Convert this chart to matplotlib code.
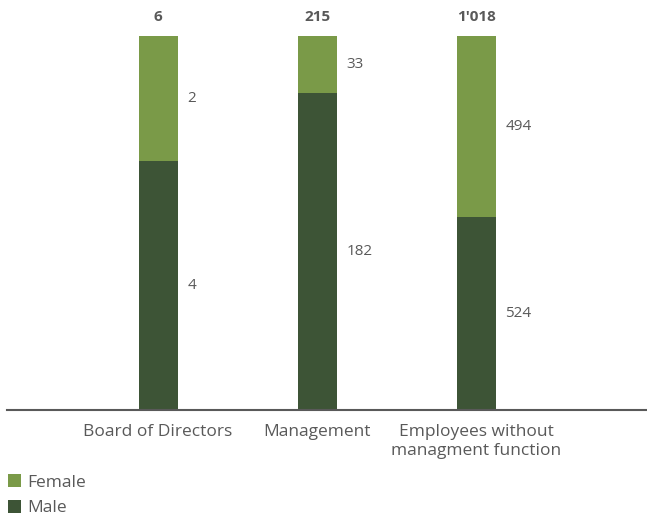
import matplotlib.pyplot as plt

categories = ["Board of Directors", "Management", "Employees without\nmanagment function"]
male = [4, 182, 524]
female = [2, 33, 494]
totals = ["6", "215", "1'018"]

MALE_COLOR = "#3d5436"
FEMALE_COLOR = "#7a9a48"
TEXT_COLOR = "#595959"

plt.rcParams['font.family'] = ['Open Sans', 'DejaVu Sans']

fig = plt.figure(figsize=(6.47, 5.16), dpi=100)
ax = fig.add_axes([7 / 647, (516 - 410) / 516, 640 / 647, 374 / 516])

x = list(range(len(categories)))
male_share = [m / (m + f) for m, f in zip(male, female)]
female_share = [f / (m + f) for m, f in zip(male, female)]

b_male = ax.bar(x, male_share, width=0.245, color=MALE_COLOR, label="Male")
b_female = ax.bar(x, female_share, bottom=male_share, width=0.245,
                  color=FEMALE_COLOR, label="Female")

for i in x:
    ax.text(i + 0.185, male_share[i] / 2, str(male[i]), va='center', ha='left',
            fontsize=11, color=TEXT_COLOR)
    ax.text(i + 0.185, male_share[i] + female_share[i] / 2, str(female[i]),
            va='center', ha='left', fontsize=11, color=TEXT_COLOR)
    ax.text(i, 1.05, totals[i], ha='center', va='center', fontsize=11,
            fontweight='bold', color=TEXT_COLOR)

ax.set_xlim(-0.95, 3.075)
ax.set_ylim(0, 1)
ax.set_xticks(x)
ax.set_xticklabels(categories, fontsize=12.5, color=TEXT_COLOR, linespacing=1.3)
ax.tick_params(axis='x', length=0, pad=10)
ax.set_yticks([])
for s in ['top', 'right', 'left']:
    ax.spines[s].set_visible(False)
ax.spines['bottom'].set_color(TEXT_COLOR)
ax.spines['bottom'].set_linewidth(1.5)

leg = fig.legend(handles=[b_female, b_male], loc='upper left',
                 bbox_to_anchor=(-0.006, 0.104), frameon=False, fontsize=12.5,
                 handlelength=0.75, handleheight=0.75, handletextpad=0.35,
                 labelspacing=0.52, borderpad=0.2)
for t in leg.get_texts():
    t.set_color(TEXT_COLOR)

fig.savefig("out.png", dpi=100)
